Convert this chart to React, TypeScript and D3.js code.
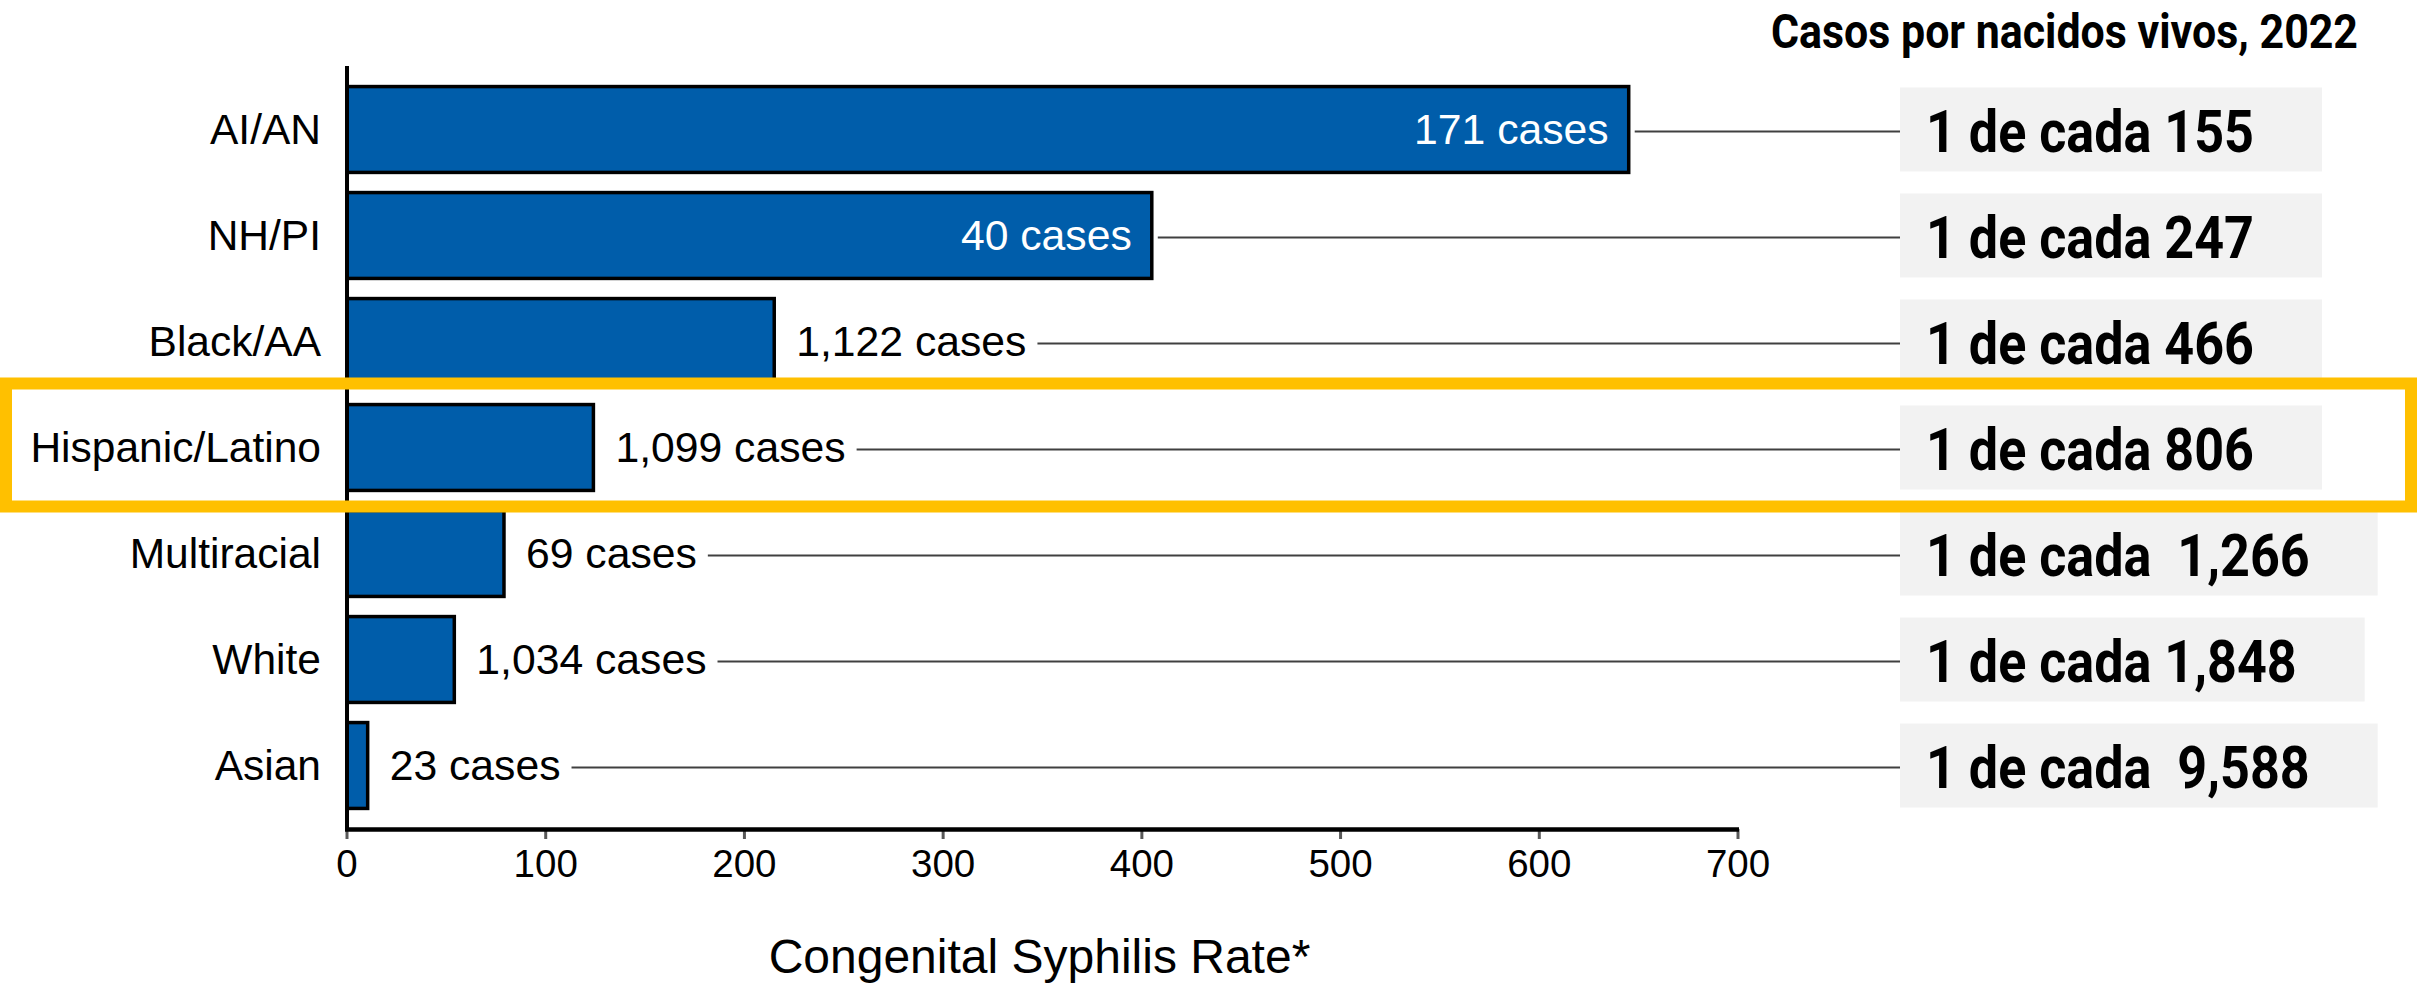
import React, { useEffect, useRef } from "react";
import * as d3 from "d3";

const categories = ["AI/AN", "NH/PI", "Black/AA", "Hispanic/Latino", "Multiracial", "White", "Asian"];
const rates = [645, 405, 215, 124, 79, 54, 10.4];
const caseLabels = ["171 cases", "40 cases", "1,122 cases", "1,099 cases", "69 cases", "1,034 cases", "23 cases"];
const ratioLabels = [
  "1 de cada 155",
  "1 de cada 247",
  "1 de cada 466",
  "1 de cada 806",
  "1 de cada  1,266",
  "1 de cada 1,848",
  "1 de cada  9,588",
];
const xTicks = [0, 100, 200, 300, 400, 500, 600, 700];
const xTitle = "Congenital Syphilis Rate*";
const rightTitle = "Casos por nacidos vivos, 2022";
const highlighted = "Hispanic/Latino";

const W = 2417;
const H = 983;
const ARIAL = "'Liberation Sans', Arial, sans-serif";
const COND = "Roboto, 'Liberation Sans', sans-serif";

export default function App() {
  const ref = useRef<SVGSVGElement | null>(null);

  useEffect(() => {
    const svg = d3.select(ref.current);
    svg.selectAll("*").remove();

    const x = d3.scaleLinear().domain([0, 700]).range([347, 1738]);
    const y = d3
      .scaleBand<string>()
      .domain(categories)
      .range([66, 829])
      .paddingInner(0.19)
      .paddingOuter(0.194);
    const bw = y.bandwidth();
    const cy = (c: string) => (y(c) as number) + bw / 2;

    const boxX = 1900;
    const gBoxes = svg.append("g");
    const gLines = svg.append("g");
    const gBars = svg.append("g");
    const gText = svg.append("g");

    // ratio texts (measure for condensation)
    const ratioTexts = gText
      .selectAll("text.ratio")
      .data(categories)
      .join("text")
      .attr("class", "ratio")
      .attr("x", boxX + 26)
      .attr("y", (c) => cy(c) + 1)
      .attr("dy", "0.36em")
      .attr("font-family", COND)
      .attr("font-weight", 700)
      .attr("font-size", 60)
      .attr("fill", "#000")
      .style("white-space", "pre")
      .text((c, i) => ratioLabels[i]);

    const nodes = ratioTexts.nodes() as SVGTextElement[];
    const natural = nodes.map((n) => n.getComputedTextLength());
    const factor = 328 / natural[0];
    const lens = natural.map((l) => l * factor);
    nodes.forEach((n, i) => {
      n.setAttribute("textLength", String(lens[i]));
      n.setAttribute("lengthAdjust", "spacingAndGlyphs");
    });

    // gray boxes
    gBoxes
      .selectAll("rect")
      .data(categories)
      .join("rect")
      .attr("x", boxX)
      .attr("y", (c) => cy(c) - 42)
      .attr("height", 84)
      .attr("width", (c, i) => lens[i] + 26 + 68)
      .attr("fill", "#F2F2F2");

    // bars
    gBars
      .selectAll("rect")
      .data(categories)
      .join("rect")
      .attr("x", x(0))
      .attr("y", (c) => y(c) as number)
      .attr("width", (c, i) => x(rates[i]) - x(0))
      .attr("height", bw)
      .attr("fill", "#005DAA")
      .attr("stroke", "#000")
      .attr("stroke-width", 3.5);

    // case labels
    const inside = (i: number) => rates[i] > 300;
    const caseTexts = gText
      .selectAll("text.case")
      .data(categories)
      .join("text")
      .attr("class", "case")
      .attr("x", (c, i) => (inside(i) ? x(rates[i]) - 20 : x(rates[i]) + 22))
      .attr("y", (c) => cy(c))
      .attr("dy", "0.35em")
      .attr("text-anchor", (c, i) => (inside(i) ? "end" : "start"))
      .attr("font-family", ARIAL)
      .attr("font-size", 42.7)
      .attr("fill", (c, i) => (inside(i) ? "#fff" : "#000"))
      .text((c, i) => caseLabels[i]);

    const caseNodes = caseTexts.nodes() as SVGTextElement[];

    // connector lines
    gLines
      .selectAll("line")
      .data(categories)
      .join("line")
      .attr("x1", (c, i) => {
        if (inside(i)) return x(rates[i]) + 6;
        const bb = caseNodes[i].getBBox();
        return bb.x + bb.width + 11;
      })
      .attr("x2", boxX)
      .attr("y1", (c) => cy(c) + 2)
      .attr("y2", (c) => cy(c) + 2)
      .attr("stroke", "#404040")
      .attr("stroke-width", 2);

    // category labels
    gText
      .selectAll("text.cat")
      .data(categories)
      .join("text")
      .attr("class", "cat")
      .attr("x", x(0) - 26)
      .attr("y", (c) => cy(c))
      .attr("dy", "0.35em")
      .attr("text-anchor", "end")
      .attr("font-family", ARIAL)
      .attr("font-size", 42.5)
      .attr("fill", "#000")
      .text((c) => c);

    // axes
    const gAxis = svg.append("g");
    gAxis
      .selectAll("line.tick")
      .data(xTicks)
      .join("line")
      .attr("class", "tick")
      .attr("x1", (d) => x(d))
      .attr("x2", (d) => x(d))
      .attr("y1", 829)
      .attr("y2", 839)
      .attr("stroke", "#595959")
      .attr("stroke-width", 3);
    gAxis
      .append("line")
      .attr("x1", x(0))
      .attr("x2", x(0))
      .attr("y1", 66)
      .attr("y2", 831)
      .attr("stroke", "#000")
      .attr("stroke-width", 4);
    gAxis
      .append("line")
      .attr("x1", x(0) - 2)
      .attr("x2", x(700) + 1)
      .attr("y1", 829.5)
      .attr("y2", 829.5)
      .attr("stroke", "#000")
      .attr("stroke-width", 4.5);
    gAxis
      .selectAll("text.tl")
      .data(xTicks)
      .join("text")
      .attr("class", "tl")
      .attr("x", (d) => x(d))
      .attr("y", 877)
      .attr("text-anchor", "middle")
      .attr("font-family", ARIAL)
      .attr("font-size", 38.5)
      .attr("fill", "#000")
      .text((d) => String(d));

    svg
      .append("text")
      .attr("x", (x(0) + x(700)) / 2 - 3)
      .attr("y", 973)
      .attr("text-anchor", "middle")
      .attr("font-family", ARIAL)
      .attr("font-size", 48)
      .attr("fill", "#000")
      .text(xTitle);

    // right title
    const t = svg
      .append("text")
      .attr("x", 1771)
      .attr("y", 48)
      .attr("font-family", COND)
      .attr("font-weight", 700)
      .attr("font-size", 49)
      .attr("fill", "#000")
      .text(rightTitle);
    (t.node() as SVGTextElement).setAttribute("textLength", "587");
    (t.node() as SVGTextElement).setAttribute("lengthAdjust", "spacingAndGlyphs");

    // highlight rectangle
    const hy = y(highlighted) as number;
    const step = y.step();
    svg
      .append("rect")
      .attr("x", 6)
      .attr("y", hy - (step - bw) / 2 - 11)
      .attr("width", W - 12)
      .attr("height", step + 17)
      .attr("fill", "none")
      .attr("stroke", "#FFC000")
      .attr("stroke-width", 12);
  }, []);

  return (
    <svg
      ref={ref}
      width={W}
      height={H}
      style={{ position: "absolute", left: 0, top: 0, background: "#fff" }}
    />
  );
}
